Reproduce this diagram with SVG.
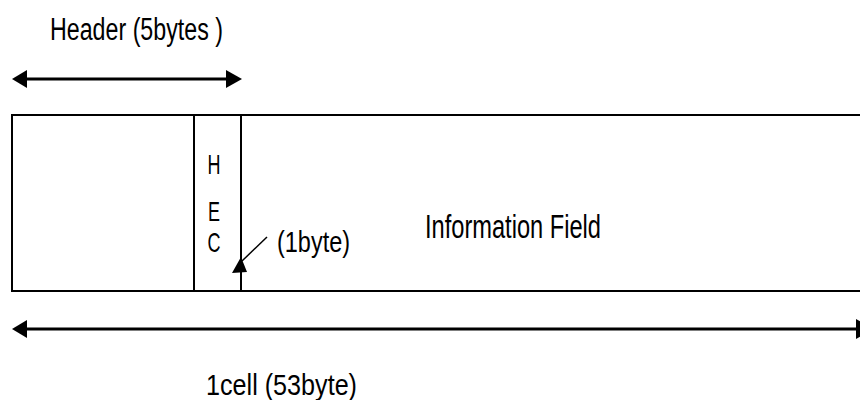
<svg xmlns="http://www.w3.org/2000/svg" width="860" height="400" viewBox="0 0 860 400">
  <style>
    .t { font-family: "Liberation Sans", Arial, sans-serif; fill: #000; }
    .box { fill: #fff; stroke: #000; stroke-width: 2; }
    .dim { stroke: #000; stroke-width: 3; fill: none; }
    .head { fill: #000; stroke: none; }
    .hec { font-size: 28px; }
  </style>
  <rect width="860" height="400" fill="#fff"/>
  <g id="cell">
    <rect class="box" x="12" y="115" width="870" height="176"/>
    <line x1="194" y1="115" x2="194" y2="291" stroke="#000" stroke-width="2"/>
    <line x1="241" y1="115" x2="241" y2="291" stroke="#000" stroke-width="2"/>
  </g>
  <g id="hec">
    <text class="t hec" x="214" y="174" text-anchor="middle" textLength="13" lengthAdjust="spacingAndGlyphs">H</text>
    <text class="t hec" x="214" y="221" text-anchor="middle" textLength="12" lengthAdjust="spacingAndGlyphs">E</text>
    <text class="t hec" x="214" y="252" text-anchor="middle" textLength="13" lengthAdjust="spacingAndGlyphs">C</text>
  </g>
  <g id="info">
    <text class="t" x="425" y="238" font-size="34" textLength="176" lengthAdjust="spacingAndGlyphs">Information Field</text>
  </g>
  <g id="hec-label">
    <text class="t" x="277" y="252" font-size="30" textLength="73" lengthAdjust="spacingAndGlyphs">(1byte)</text>
  </g>
  <g id="header-label">
    <text class="t" x="50" y="40" font-size="31" textLength="173" lengthAdjust="spacingAndGlyphs">Header (5bytes )</text>
  </g>
  <g id="cell-label">
    <text class="t" x="206" y="395" font-size="29" textLength="151" lengthAdjust="spacingAndGlyphs">1cell (53byte)</text>
  </g>
  <g id="connectors">
    <line class="dim" x1="24" y1="79" x2="230" y2="79"/>
    <polygon class="head" points="12,79 27,70 27,88"/>
    <polygon class="head" points="242,79 226,70 226,88"/>
    <line class="dim" x1="24" y1="329" x2="858" y2="329"/>
    <polygon class="head" points="12,329 27,320 27,338"/>
    <polygon class="head" points="856,319 856,339 873,329"/>
    <line x1="267" y1="237" x2="242" y2="261" stroke="#000" stroke-width="1.5"/>
    <polygon class="head" points="241,257 232,273 247,272"/>
  </g>
</svg>
